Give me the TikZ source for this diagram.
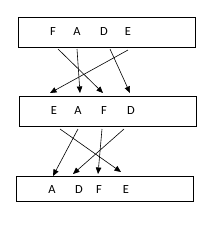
\documentclass[tikz,border=0pt]{standalone}
\usepackage{fontspec}
\setmainfont{Carlito}
\usetikzlibrary{arrows.meta}
\begin{document}
\begin{tikzpicture}[x=1bp,y=-1bp,
  box/.style={draw,line width=0.8bp,inner sep=0pt},
  lbl/.style={font=\fontsize{12.5}{14}\selectfont,inner sep=0pt},
  arr/.style={line width=0.6bp,-{Triangle[length=6.5bp,width=5.5bp]}}]
\useasboundingbox (0,0) rectangle (216,225);
% boxes
\node[box,minimum width=177bp,minimum height=30bp] (b1) at (106.5,32) {};
\node[box,minimum width=177bp,minimum height=30bp] (b2) at (107.5,111) {};
\node[box,minimum width=177bp,minimum height=25bp] (b3) at (104.5,188.5) {};
% letters
\node[lbl] (f1) at (53,32) {F};
\node[lbl] (a1) at (77,32) {A};
\node[lbl] (d1) at (104,32) {D};
\node[lbl] (e1) at (128,32) {E};
\node[lbl] (e2) at (54,111) {E};
\node[lbl] (a2) at (78,111) {A};
\node[lbl] (f2) at (104,111) {F};
\node[lbl] (d2) at (131,111) {D};
\node[lbl] (a3) at (52,190) {A};
\node[lbl] (d3) at (79,190) {D};
\node[lbl] (f3) at (99,190) {F};
\node[lbl] (e3) at (126,190) {E};
% connector end points
\coordinate (sf1) at (58,49);  \coordinate (tf2) at (103,93);
\coordinate (sa1) at (77,49);  \coordinate (ta2) at (80,93);
\coordinate (sd1) at (110,49); \coordinate (td2) at (130,93);
\coordinate (se1) at (128,50); \coordinate (te2) at (50,93);
\coordinate (se2) at (60,129); \coordinate (te3) at (121,172);
\coordinate (sa2) at (78,129); \coordinate (ta3) at (53,176);
\coordinate (sf2) at (102,129);\coordinate (tf3) at (98,174);
\coordinate (sd2) at (124,129);\coordinate (td3) at (73,174);
\draw[arr] (sf1) -- (tf2);
\draw[arr] (sa1) -- (ta2);
\draw[arr] (sd1) -- (td2);
\draw[arr] (se1) -- (te2);
\draw[arr] (se2) -- (te3);
\draw[arr] (sa2) -- (ta3);
\draw[arr] (sf2) -- (tf3);
\draw[arr] (sd2) -- (td3);
\end{tikzpicture}
\end{document}
